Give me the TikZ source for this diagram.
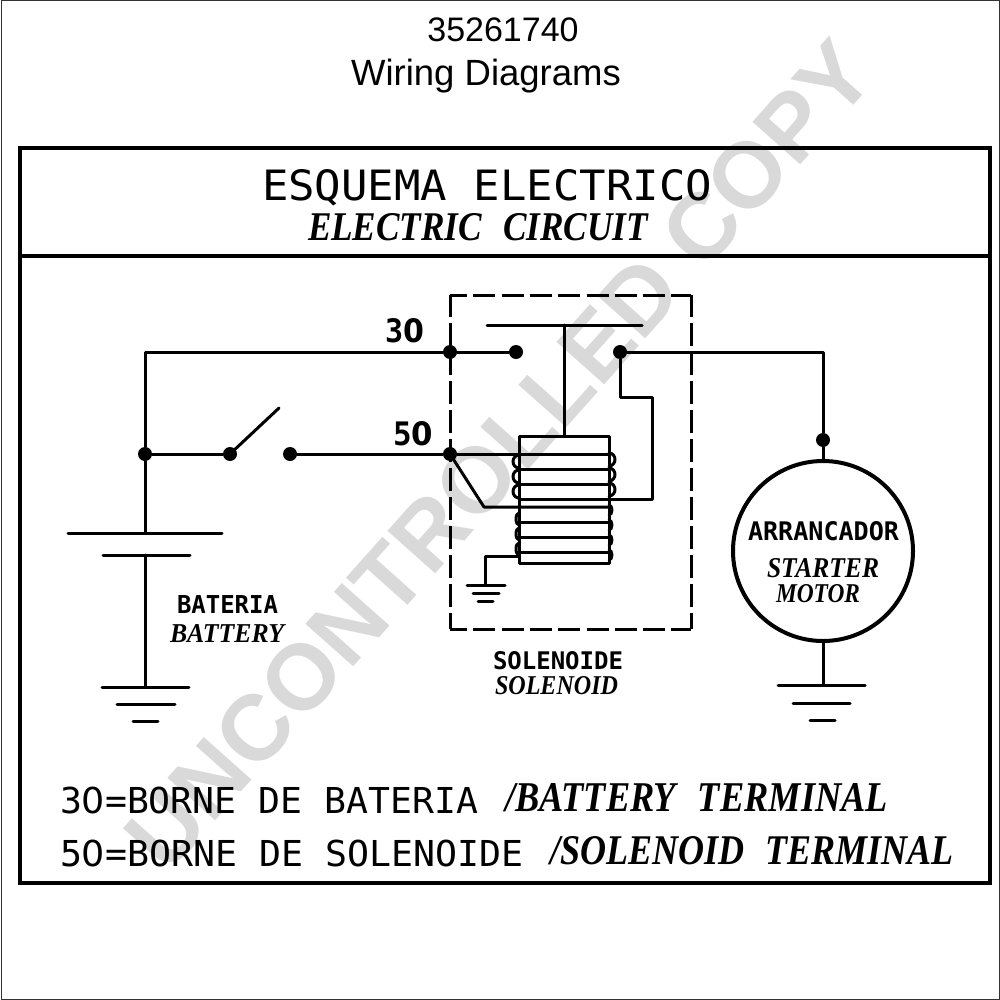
\documentclass[tikz,border=0pt]{standalone}
\usepackage{fontspec}
\usepackage{graphicx}
\setmainfont{Liberation Sans}
\newfontfamily\cadf{DejaVu Sans Mono}
\newfontfamily\cadz{DejaVu Sans}
\newfontfamily\itf[BoldItalicFont={Liberation Serif Bold Italic}]{Liberation Serif}
\newcommand{\zr}{{\cadz 0}}
\newcommand{\wgap}{\hspace{.35em}}
\newcommand{\cadtxt}[3]{\resizebox{#1pt}{#2pt}{\fontsize{40}{44}\cadf #3}}
\newcommand{\cadb}[3]{\resizebox{#1pt}{#2pt}{\fontsize{40}{44}\cadf\bfseries #3}}
\newcommand{\ittxt}[3]{\resizebox{#1pt}{#2pt}{\fontsize{40}{44}\itf\bfseries\itshape #3}}
\tikzset{
  wire/.style={line width=3pt,black,line cap=round,line join=round},
  heavy/.style={line width=4pt,black},
  dot/.style={circle,fill=black,draw=none,inner sep=0pt,minimum size=14pt},
  lbl/.style={anchor=base west,inner sep=0pt,outer sep=0pt},
  motorshape/.style={circle,draw=black,line width=4pt,inner sep=0pt,minimum size=180pt},
  dashh/.style={line width=3pt,black,dash pattern=on 22pt off 6.3pt,dash phase=5pt},
  dashv/.style={line width=3pt,black,dash pattern=on 22.5pt off 6.5pt,dash phase=1pt},
}
\begin{document}
\begin{tikzpicture}[x=1pt,y=-1pt]
\useasboundingbox (0,0) rectangle (1000,1000);
\fill[white] (0,0) rectangle (1000,1000);
% watermark
\node[rotate=48.3,text=black!15,font=\bfseries\fontsize{93}{100}\selectfont,inner sep=0pt] (wm) at (499,455) {UNCONTROLLED COPY};
% sheet border and frame
\draw[line width=1pt,black!80] (1,1) rectangle (999,999);
\draw[heavy] (20,148) rectangle (990,883);
\coordinate (hl) at (20,256); \coordinate (hr) at (990,256);
\draw[heavy] (hl) -- (hr);
% titles
\node[font=\fontsize{34}{40}\selectfont,inner sep=0pt] (t1) at (503,30) {35261740};
\node[font=\fontsize{36.5}{40}\selectfont,inner sep=0pt] (t2) at (486,76) {Wiring Diagrams};
\node[lbl] (h1) at (262,201) {\cadtxt{450}{31}{ESQUEMA ELECTRICO}};
\node[lbl] (h2) at (308,241) {\ittxt{340}{27}{ELECTRIC\wgap{} CIRCUIT}};
% terminals
\node[dot] (j30) at (450,352) {};
\node[dot] (c30) at (516,352) {};
\node[dot] (cout) at (620,352) {};
\node[dot] (j50) at (450,454) {};
\node[dot] (jb) at (145,454) {};
\node[dot] (s1) at (230,454) {};
\node[dot] (s2) at (290,454) {};
\node[dot] (jm) at (823,440) {};
\node[motorshape] (motor) at (823,551) {};
\coordinate (tl) at (145,352);
\coordinate (swt) at (279,408);
\coordinate (bp1) at (145,533);
\coordinate (bp2) at (145,555);
\coordinate (gb) at (145,687);
\coordinate (gm) at (823,685);
\coordinate (gs) at (485,585);
% dashed solenoid box
\coordinate (bA) at (450,295); \coordinate (bB) at (691,295);
\coordinate (bC) at (450,629); \coordinate (bD) at (691,629);
\draw[dashh] (bA) -- (bB);
\draw[dashh] (bC) -- (bD);
\draw[dashv] (bA) -- (bC);
\draw[dashv] (bB) -- (bD);
% wires
\draw[wire] (c30) -- (j30) -- (tl) -- (jb) -- (bp1);
\draw[wire] (jb) -- (s1);
\draw[wire] (s1.center) -- (swt);
\draw[wire] (s2) -- (j50);
\draw[wire] (bp2) -- (gb);
\draw[wire] (cout) -| (jm);
\draw[wire] (jm) -- (motor);
\draw[wire] (motor) -- (gm);
% battery plates
\draw[wire] (68,533) -- (bp1) -- (222,533);
\draw[wire] (103,555) -- (bp2) -- (190,555);
% grounds
\draw[wire] (102,687) -- (gb) -- (189,687);
\draw[wire] (117,704) -- (175,704);
\draw[wire] (133,721) -- (158,721);
\draw[wire] (778,685) -- (gm) -- (865,685);
\draw[wire] (793,703) -- (850,703);
\draw[wire] (810,720) -- (835,720);
\draw[wire] (467,585) -- (gs) -- (505,585);
\draw[wire] (473,593) -- (499,593);
\draw[wire] (478,601) -- (493,601);
% solenoid
\coordinate (barc) at (564,325);
\coordinate (coiltop) at (564,436);
\draw[wire] (487,325) -- (barc) -- (642,325);
\draw[wire] (barc) -- (coiltop);
\draw[wire] (519,436) rectangle (609,563);
\coordinate (c454) at (609,454);
\draw[wire] (j50) -- (c454);
\foreach \y in {469,484,499,522,537,552}{\draw[wire] (519,\y) -- (609,\y);}
\coordinate (d1) at (484,507);
\coordinate (c507) at (609,507);
\draw[wire] (j50.center) -- (d1) -- (c507);
\coordinate (f1) at (620,397);
\coordinate (f2) at (652,397);
\coordinate (f3) at (652,499);
\coordinate (c499) at (609,499);
\draw[wire] (cout) -- (f1) -- (f2) -- (f3) -- (c499);
\coordinate (cg) at (519,556);
\coordinate (cg2) at (485,556);
\draw[wire] (cg) -- (cg2) -- (gs);
% coil turns
\foreach \y in {455,470,485}{
  \draw[wire] (519,\y) arc[start angle=-90,end angle=-270,x radius=6,y radius=6.5];
  \draw[wire] (609,\y-2) arc[start angle=-90,end angle=90,x radius=6,y radius=6.5];
}
\foreach \y in {513,528,543}{
  \draw[wire] (519,\y) arc[start angle=-90,end angle=-270,x radius=3,y radius=6];
}
\foreach \y in {505,520,535,550}{
  \draw[wire] (609,\y) arc[start angle=-90,end angle=90,x radius=3,y radius=5];
}
% labels
\node[lbl] (l30) at (385,342) {\cadb{39}{24}{3\zr}};
\node[lbl] (l50) at (393,445) {\cadb{40}{24}{5\zr}};
\node[lbl] (bat1) at (177,613) {\cadb{101}{18}{BATERIA}};
\node[lbl] (bat2) at (170,642) {\ittxt{114}{18}{BATTERY}};
\node[lbl] (arr) at (748,540) {\cadb{151}{19}{ARRANCADOR}};
\node[lbl] (st1) at (767,577) {\ittxt{112}{19}{STARTER}};
\node[lbl] (st2) at (776,602) {\ittxt{84}{18}{MOTOR}};
\node[lbl] (so1) at (493,669) {\cadb{130}{18}{SOLENOIDE}};
\node[lbl] (so2) at (495,694) {\ittxt{123}{18}{SOLENOID}};
\node[lbl] (b1) at (60,813) {\cadtxt{418}{26.5}{3\zr=BORNE DE BATERIA}};
\node[lbl] (b2) at (505,811) {\ittxt{383}{28}{/BATTERY\wgap{} TERMINAL}};
\node[lbl] (b3) at (60,866) {\cadtxt{463}{26.5}{5\zr=BORNE DE SOLENOIDE}};
\node[lbl] (b4) at (550,864) {\ittxt{404}{28}{/SOLENOID\wgap{} TERMINAL}};
\end{tikzpicture}
\end{document}
